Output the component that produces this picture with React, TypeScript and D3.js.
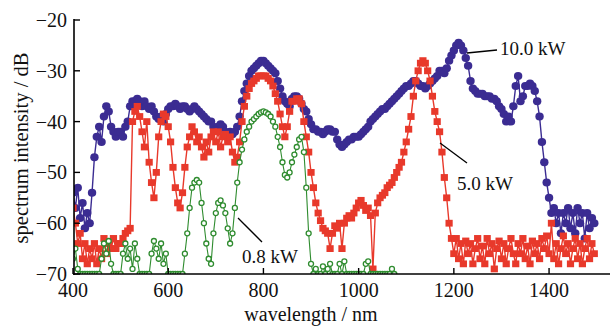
import React from 'react';
import * as d3 from 'd3';

// wavelength grid (nm) of the sampled spectra
const wavelengths: number[] = d3.range(400, 1500, 5);

// 10.0 kW spectrum (dB), 400..1495 nm
const power10kW: number[] = [
  -54, -57, -53, -59, -56, -61, -58, -60, -54, -47, -43, -41, -44, -39, -37, -38, -41, -42, -43, -42,
  -42, -43, -41, -40, -37, -36, -36, -35.5, -36, -37, -36, -37, -37.5, -37, -38, -39, -39.5, -39, -40, -38.5,
  -37.5, -37, -37, -36.5, -37, -37.5, -37, -37, -37.5, -38, -37.5, -37, -37.5, -38, -38.5, -39, -39.5, -40, -40, -41,
  -41.5, -41, -40.5, -41, -42, -42.5, -42, -42.5, -42, -41, -39, -36, -34, -32.5, -31, -30, -29.5, -29, -28.5, -28,
  -28, -28.5, -29, -29.5, -30, -30.5, -32, -33.5, -35, -36, -36.5, -37, -35.5, -35, -35, -35.5, -36.5, -37.5, -38, -39.5,
  -40.5, -41.5, -41.5, -42, -42, -42.5, -42, -41.5, -41.5, -42, -42, -43.5, -44.5, -45, -44.5, -44, -43.5, -43.5, -43, -43,
  -43, -42.5, -42, -41.5, -41, -40, -39.5, -39, -38.5, -38, -37.5, -37.5, -37, -36.5, -36, -35.5, -35, -34.5, -34, -33.5,
  -33, -33, -32.5, -32, -32, -32.5, -33, -33, -33.5, -33, -32.5, -32, -31.5, -31, -30, -30, -30.5, -29.5, -28, -27,
  -26, -25, -24.5, -25, -26, -27.5, -29, -32, -33.5, -34, -34.5, -34.5, -34.5, -35, -35, -35, -35.5, -35.5, -36, -37,
  -37.5, -38.5, -40, -39, -40, -37, -33, -31, -36, -35, -33, -33, -32.5, -33, -34, -36, -39, -44, -48, -52,
  -55, -58, -57, -60, -58, -62, -58, -60, -57, -61, -58, -62, -57, -60, -58, -63, -58, -61, -59, -60,
];

// 5.0 kW spectrum (dB), 400..1495 nm
const power5kW: number[] = [
  -57, -60, -64, -62, -67, -64, -68, -65, -67, -64, -68, -65, -67, -63, -66, -64, -65, -63, -65, -64,
  -64, -63, -62, -61.5, -61, -40, -38, -37, -39, -42, -45, -40, -48, -52, -55, -50, -43, -40, -38.5, -39,
  -41, -44, -49, -53, -56, -57, -54, -49, -45, -43, -41, -42, -44, -43, -45, -47, -44, -46, -43, -42,
  -44, -42, -45, -43, -42.5, -44, -43, -46, -48, -47, -44, -40, -37, -35, -33.5, -32.5, -32, -31.5, -31, -31,
  -31, -31, -31.5, -32, -33, -34.5, -36, -38.5, -41, -43, -41, -38, -36, -36, -35.5, -35.5, -36.5, -40, -43, -46,
  -50, -53, -56, -58, -59.5, -61, -61.5, -62, -65, -62, -60.5, -61, -60, -65, -60, -59, -58.5, -59, -58, -57,
  -56, -55.5, -56.5, -57.5, -57, -58.5, -69, -58, -56, -55, -54.5, -54, -53, -52.5, -52, -51, -50, -49, -48, -46,
  -44, -41.5, -39, -35, -32, -30, -28.5, -28, -28.5, -30, -32, -35, -38, -40, -42, -46, -51, -55, -60, -63,
  -66, -63, -67, -64, -68, -63.5, -66, -64, -68, -65, -63, -67, -64.5, -68, -63, -66, -64, -69, -65, -63.5,
  -67, -64, -68, -65, -63, -66, -68, -64, -66, -63, -67, -64.5, -68, -63.5, -66, -64, -67, -63, -65, -62.5,
  -66, -60, -67, -64, -68, -65, -62.5, -66, -64, -68, -65, -63, -67, -64, -68, -65, -63, -67, -64, -66,
];

// 0.8 kW spectrum (dB), 400..1075 nm
const power08kW: number[] = [
  -67, -65, -69, -70, -70, -70, -70, -70, -70, -70, -70, -70, -67, -64, -66, -63.5, -68, -70, -70, -70,
  -70, -66, -64, -67, -65, -69, -64, -67, -70, -70, -70, -70, -70, -66, -63.5, -65, -67, -64, -68, -66,
  -70, -70, -70, -70, -70, -70, -70, -66, -62, -57, -53, -52, -51.5, -52, -56, -60, -64, -67, -68, -62,
  -58, -56, -55.5, -56.5, -58, -61, -64, -62, -57, -52, -48, -45.5, -43.5, -42, -41, -40, -39.5, -39, -38.5, -38.2,
  -38, -38.2, -38.5, -39, -40, -41, -43, -45, -48, -50.5, -51, -50, -48, -46.5, -45, -43.5, -43, -46, -53, -62,
  -68, -70, -69, -70, -70, -68.5, -70, -69, -68, -70, -70, -70, -68, -70, -67.5, -70, -70, -70, -70, -70,
  -70, -70, -70, -68, -67.5, -70, -70, -70, -70, -70, -70, -70, -70, -70, -69, -70,
];

const xTicks: number[] = [400, 600, 800, 1000, 1200, 1400];
const yTicks: number[] = [-20, -30, -40, -50, -60, -70];
const seriesLabels: string[] = ['10.0 kW', '5.0 kW', '0.8 kW'];

const BLUE = '#3b2c92';
const RED = '#e8392b';
const GREEN = '#2f8c2f';
const FONT = '"Liberation Serif", "DejaVu Serif", serif';

export default function App() {
  const W = 610;
  const H = 327;
  const x = d3.scaleLinear().domain([400, 1528]).range([73, 610]);
  const y = d3.scaleLinear().domain([-70, -20]).range([274, 20]);

  const pts = (vals: number[]) => vals.map((v, i) => [wavelengths[i], v] as [number, number]);
  const line = d3
    .line<[number, number]>()
    .x((d) => x(d[0]))
    .y((d) => y(d[1]));

  const blue = pts(power10kW);
  const red = pts(power5kW);
  const green = pts(power08kW);
  const ts: React.CSSProperties = { fontFamily: FONT };

  return (
    <svg
      width={W}
      height={H}
      style={{ position: 'absolute', left: 0, top: 0, background: '#fff' }}
    >
      <defs>
        <clipPath id="plot">
          <rect x={74} y={0} width={W - 74} height={274} />
        </clipPath>
      </defs>

      <g clipPath="url(#plot)">
        {/* 10.0 kW */}
        <path d={line(blue) || ''} fill="none" stroke={BLUE} strokeWidth={1.4} />
        {blue.map((d, i) => (
          <ellipse key={'b' + i} cx={x(d[0])} cy={y(d[1])} rx={4.2} ry={4} fill={BLUE} />
        ))}
        {/* 5.0 kW */}
        <path d={line(red) || ''} fill="none" stroke={RED} strokeWidth={1.4} />
        {red.map((d, i) => (
          <rect key={'r' + i} x={x(d[0]) - 3.6} y={y(d[1]) - 3.4} width={7.2} height={6.8} fill={RED} />
        ))}
        {/* 0.8 kW */}
        <path d={line(green) || ''} fill="none" stroke={GREEN} strokeWidth={1.1} />
        {green.map((d, i) => (
          <circle key={'g' + i} cx={x(d[0])} cy={y(d[1])} r={2.5} fill="#fff" stroke={GREEN} strokeWidth={1.3} />
        ))}
      </g>

      {/* axes */}
      <line x1={74} y1={19} x2={74} y2={275} stroke="#000" strokeWidth={1.6} />
      <line x1={73} y1={274} x2={610} y2={274} stroke="#000" strokeWidth={1.6} />
      {yTicks.map((t) => (
        <g key={'yt' + t}>
          <line x1={74} x2={80} y1={y(t)} y2={y(t)} stroke="#000" strokeWidth={1.4} />
          <text x={67} y={y(t)} dy="0.35em" textAnchor="end" fontSize={20} fill="#111" style={ts}>
            {'\u2212' + Math.abs(t)}
          </text>
        </g>
      ))}
      {xTicks.map((t) => (
        <g key={'xt' + t}>
          <line x1={x(t)} x2={x(t)} y1={274} y2={268} stroke="#000" strokeWidth={1.4} />
          <text x={x(t)} y={297} textAnchor="middle" fontSize={20} fill="#111" style={ts}>
            {t}
          </text>
        </g>
      ))}
      <text x={311} y={321} textAnchor="middle" fontSize={20} fill="#111" style={ts}>
        wavelength / nm
      </text>
      <text
        transform="translate(28,148) rotate(-90)"
        textAnchor="middle"
        fontSize={20.5}
        fill="#111"
        style={ts}
      >
        spectrum intensity / dB
      </text>

      {/* annotations */}
      <line x1={467} y1={53} x2={497} y2={50} stroke="#000" strokeWidth={1.3} />
      <text x={500} y={55} fontSize={19} fill="#111" style={ts}>{seriesLabels[0]}</text>
      <line x1={440} y1={143} x2={467} y2={163} stroke="#000" strokeWidth={1.3} />
      <text x={457} y={190} fontSize={19} fill="#111" style={ts}>{seriesLabels[1]}</text>
      <line x1={238} y1={218} x2={262} y2={242} stroke="#000" strokeWidth={1.3} />
      <text x={242} y={263} fontSize={19} fill="#111" style={ts}>{seriesLabels[2]}</text>
    </svg>
  );
}
